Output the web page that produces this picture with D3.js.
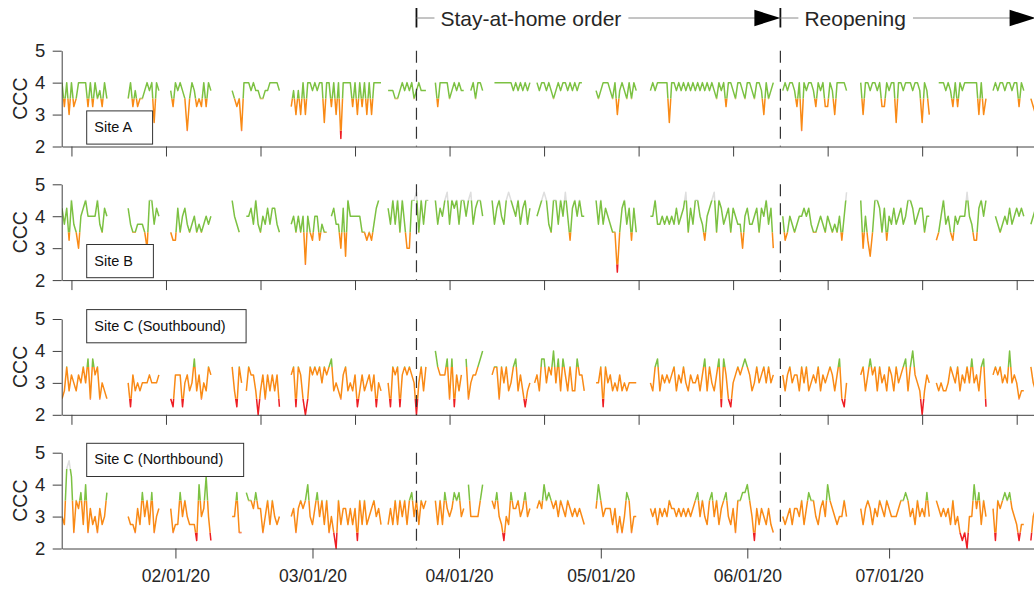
<!DOCTYPE html>
<html><head><meta charset="utf-8">
<script src="https://cdn.jsdelivr.net/npm/d3@7"></script>
<style>body{margin:0;background:#fff}svg{display:block;font-family:"Liberation Sans",Arial,Helvetica,sans-serif}</style>
</head><body><svg id="chart" width="1034" height="589"></svg>
<script>
// ---- data: CCC samples every 12 hours from 2020-01-08; each segment = [start sample index, values]
const sampleStart = Date.UTC(2020, 0, 8);
const stepHours = 12;

const siteA = [
  [0, [4,3.25,4,3,4,3.25,3.5,4,4,4,4,3.25,4,3.25,4,3.5,3.75,3.25,4,3.5]],
  [28, [3.5,4,3.25,3.75,3.25,3.5,3.5,3.75,4,3.75,4,2.75,4,3.75]],
  [46, [3.75,3.25,4,3.75,4,3.75,3.5,2.5,3.5,4,3.75,3.25,3.5,3.25,4,3.25,4,3.75]],
  [72, [3.75,3.5,3.25,3.5,2.5,4,4,4,3.75,4,3.75,3.75,3.5,3.5,3.75,3.75,4,4,4,4,3.75]],
  [97, [3.25,3.75,3,3.75,3,4,3,4,4,3.75,4,3.75,4,4,2.75,4,4,3.25,4,3,4,2.25,4,4,4,4,3.25,4,3,4,3.25,4,3,4,3,4,4,4,4]],
  [138, [3.75,3.75,3.75,3.5,3.5,3.75,4,3.75,4,3.75,4,3.5,3.75,4,3.75,3.75,3.75]],
  [158, [4,3.25,4,4,4,4,3.5,3.75,4,3.75,4,3.75,3.75]],
  [173, [3.75,4,3.5,4,4,3.75]],
  [183, [4,4,4,4,4,4,4,4,3.75,4,3.75,4,3.75,4,3.75,4]],
  [201, [4,3.75,4,4,3.75,4,3.75,3.5,3.75,4,3.75,4,4,3.75,4,3.75,4,3.75,4,4]],
  [226, [3.75,3.5,3.75,4,4,4,3.75,3.5,4,3,3.75,4,3.75,3.5,4,3.5,4,3.75]],
  [249, [3.75,4,3.75,4,4,4,4,4,2.75,4,4,3.75,4,3.75,4,3.75,4,3.75,4,3.75,4,3.75,4,3.75,4,3.75,4,3.75,3.5,4,3.75,4,3.25,4,4,3.75,3.5,4,4,3.75,3.5,4,4,3.75,3.5,4,4,3.75,3,4,3.5,3.75,4]],
  [305, [3.75,4,3.75,4,4,3.75,3.25,4,2.5,4,3.75,4,4,3.75,3.25,4,3.75,4,3.25,3.25,4,3.75,3,4,4,4,4,3.75]],
  [338, [4,3,4,4,3.75,4,4,3.75,4,3.25,3.25,4,3.75,4,4,2.75,4,4,3.75,4,4,4,3.75,4,4,3.75,2.75,4,3.75,3]],
  [371, [4,4,4,3.75,4,3.75,3.25,4,3.25,4,3.75,4,4,4,4,4,4,3,4,3,3.5]],
  [394, [3.75,4,3.75,4,4,3.75,4,4,3.75,4,4,3.25,4,3.75]],
  [410, [3.5,3.25,3]]
];

const siteB = [
  [0, [4.25,3.75,4.25,3.25,4.5,3.75,3.5,3,4,4.25,4.5,4,4,4,4,4.5,3.75,3.5,4.25,4]],
  [28, [4.25,3.75,3.5,3.5,3.75,3.75,3.75,3.5,3,4.5,4.5,3.75,4.25,4]],
  [46, [3.5,3.25,3.25,4.25,3.5,4,4.25,3.75,3.5,3.75,4,3.5,3.75,3.5,3.75,4,3.75,4]],
  [72, [4.5,4,3.75,3.5]],
  [78, [4,4,4.25,3.75,4.5,3.75,3.5,4,3.75,4.25,3.75,4.25,4.25,3.75,3.5]],
  [97, [3.75,4,3.5,4,3.5,4,2.5,4,3.5,3.25,4,4,3.25,3.75,3.5,3.5]],
  [114, [4,4.25,3.75,3.75,3,4.25,2.75,4.5,4,4,4,4,4,3.5,3.5,3.25,3.5,3.25,3.75,4.25,4.5]],
  [138, [4.25,3.75,4.5,3.75,4.5,3.5,4.5,3.75,3,3,4.5,4.5,4.75,3.5,4.5,3.75,4.5,4.5]],
  [158, [4.5,3.75,4.25,4,4.5,4.75,3.75,4.5,4.25,4.5,3.75,4.5,4.5,4,4.5,4.75,3.75,4.25,4.5,4.5,4]],
  [182, [4.5,3.75,4.25,4.5,4,3.75,4.5,4.75,4.5,4.25,4,4.5,3.75,4.25,4.5,3.75,4.25]],
  [201, [4,4.25,4.5,4.75,4.5,3.75,3.5,4.5,4.5,3.75,4.5,4,4.75,4,3.25,4.25,4.5,4,4.5,4,4]],
  [226, [4.5,3.75,4.5,3.75,4.25,4,3.75,3.5,3.5,2.25,3.5,4.25,4.5,3.75,4.25,3.25,4.25,3.5]],
  [249, [4,4,4.5,3.75,3.75,4,3.75,4,3.75,4,3.75,4.25,3.75,4,4.25,4.75,3.5,4.25,3.75,4.5,4.5,4,3.75,3.25,4,4.25,4.5,4.75,3.5,4.5,4.25,3.75,4,4.25,3.5,4.25,4,3.75,3.75,3,4,4.25,3.75,3.75,4,4.25,3.5,4.25,4,4.5,3.75,4.25,3]],
  [305, [4,3.25,3.5,4,3.75,3.5,3.75,4,4,4.25,4,4.25,3.75,3.5,3.5,3.75,4,3.75,3.5,4,3.75,3.5,3.75,3.5,4,3.25,4,4.75]],
  [338, [4.5,3,4,3.25,2.75,3.5,4.5,4.5,4.25,3.5,4.25,3.25,4,3.75,4.25,3.75,4,4.25,3.75,4,4.5,4.5,4.25,3.75,4,4.25,4.25,3.5,4,4]],
  [370, [3.25,3.5,4,4.5,3.75,4,3.5,3.25,4,3.75,4,4,4,4.75,4,3.75,3.25,3.25,4.25,4.5,4,4.5]],
  [395, [4,3.75,3.5,3.75,4,3.75,4.25,3.75,4,4.25,4,4.25,4]],
  [410, [3.75,4,4.25]]
];

const siteCSouth = [
  [0, [2.5,2.75,3.5,2.75,3.25,3,2.75,3.25,3,3.5,3,3.75,2.5,3.75,3.25,3.5,2.5,3,2.75,2.5]],
  [28, [3,2.25,3.25,2.75,3,2.75,3,3,3,3.25,3,3,3,3.25]],
  [46, [2.5,2.25,3.25,3.25,3.25,2.25,3,3.25,2.75,3,3.75,2.75,3.25,2.5,3,2.75,3.5,3.25]],
  [72, [3.5,2.75,2.25,3.5,3]],
  [78, [2.75,3.5,3.25,3.25,2.75,2,2.75,3.25,2.5,3.25,2.75,3.25,2.75,3.25,2.25]],
  [97, [3.25,3.5,2.25,3.5,3.25,2.5,2,2.5,3.5,3.25,3.5,3.25,3.5,3,3.5,3.25,3.5,3.75,2.75,3,2.75,2.5,3.25,3.5,2.75,3,2.75,3.25,2.25,2.75,3.25,2.75,3,3.25,2.75,3.25,2.25,3,2.75]],
  [138, [3,2.25,3.5,3.25,3.5,2.25,3.25,3.5,3.25,3.5,3.25,3,2,3,3.5,2.75,3.5]],
  [158, [4,3.5,3.25,3.25,3.25,3.75,2.5,3.75,2.25,3.25,2.75,3.25]],
  [171, [3.75,2.5,3,3.25,3.25,3.5,3.75,4]],
  [182, [3.25,3.5,3.5,2.5,3.5,3,3.5,2.75,3,3.5,3.75,2.75,3.25,2.75,2.25,2.75,3]],
  [200, [3,3.25,2.75,3.75,3.75,3,3.5,3.25,4,3,3.75,2.75,3.75,3.25,2.75,3.5,2.75,2.75,3.75,3.25,3.25,2.75]],
  [226, [3,3,3.5,2.25,3.5,3,3.25,2.75,3,2.75,3.25,2.75,3,2.75,3,3,3,3]],
  [249, [3,2.75,3.5,3.75,2.75,3.25,3,3.25,3,3.25,3.5,2.75,3.25,3,3.5,3,2.75,3.25,3,3,3.25,2.75,3.25,3.75,2.75,3.5,3,2.75,3.25,3.75,2.25,3.75,3.25,2.5,2.25,3,3.25,3.5,3.25,3.5,3.75,3.5,3.25,2.75,3,3.5,3,3.25,3.5,3,3.5,3,3.25]],
  [305, [3.25,2.75,3.25,3.5,3,3.25,3.25,2.75,3.5,3,3.5,2.75,3,3.25,3,3.5,2.75,3.25,3,3.25,3.5,3.25,2.75,3.25,3.75,2.5,2.25,3]],
  [338, [3.25,3.5,2.75,3.25,3.75,3.25,3.5,2.75,3.5,3,3.25,2.75,3.5,3.25,2.75,3.5,3,3.25,3.5,3.75,2.75,3.5,4,3.25,3,2.75,2,2.75,3.25,3]],
  [370, [3,2.75,3,2.75,2.75,3,3.5,3.25,3,3.5,2.75,3.25,3,3.5,3,3.75,3,3.25,2.75,3.5,3.75,2.25]],
  [394, [3.25,3.5,3.25,3.5,3,3.25,3,4,3,3.25,3,2.5,2.75,2.75]],
  [410, [3.5,3,2.75]]
];

const siteCNorth = [
  [0, [3,2.75,4.5,4.75,4.25,2.5,3.5,3.25,3.75,2.75,4,2.5,3.25,2.75,3,2.5,3.25,2.75,3,3.75]],
  [28, [3,2.75,2.75,2.5,3.25,2.75,3.75,3,3.5,2.75,3.75,2.5,3,3.25]],
  [46, [3.25,2.5,2.75,2.75,3.75,3,3.5,3,2.75,2.75,2.75,2.25,4,3,3.25,4.25,3,2.25]],
  [72, [3,3,3.75,2.5,2.5]],
  [78, [3.75,3.5,3.5,3.25,3.75,3.25,3.25,2.5,3,3.5,2.75,3.5,3,2.75,3]],
  [97, [3,3.25,2.5,3.25,3.5,3.25,3.5,4,3,2.75,3.25,3.75,3,3.5,2.75,3.5,2.5,3,2.5,2,3.5,2.75,3.25,3.25,2.75,3.25,2.75,3.25,2.25,3.5,2.75,3.5,2.75,3,3.25,3.5,3,3.25,2.75]],
  [138, [2.75,3.25,2.75,3.5,2.75,3.5,3,3.5,2.75,3.5,3.75,3,3.5,2.75,3.5,3.25,3.5]],
  [158, [3.5,2.75,3.5,2.75,3.75,3.25,3,3.25,3.75,3.5,3.75,3,3.25]],
  [172, [4,3,3,3,3,3.5,4]],
  [182, [3.5,3.25,3.75,3,2.75,2.25,3,2.75,3.75,3.25,3.25,3.5,3,3.25,3.75,3,3.25]],
  [201, [3.25,3.5,3.25,4,3.5,3.75,3.5,3.25,3.5,3,3.5,3.25,3,3.5,3.25,3,3.25,3,3.25,3,2.75]],
  [226, [3.25,4,3.5,3,3.25,3.25,3.25,2.75,3.25,2.5,3,2.5,3,3.75,3.5,2.5,3,3]],
  [249, [3.25,3,3.25,2.75,3.25,3,3.25,3,3.5,3.25,3.25,3,3.25,3,3.25,3,3.25,3,3.25,3.5,3.75,3,3.5,3,2.75,3.5,3.75,3,3.5,2.75,3.25,3.5,3.75,3,2.75,3.25,2.5,3.5,3.5,3.75,3.75,4,3.5,3,2.25,3.25,2.75,3.25,3,2.75,3.25,2.75,2.5]],
  [305, [3,2.75,3,3.25,2.75,3.25,3.25,3,3.5,2.75,3.25,3.75,3.5,3.5,3,2.75,3.25,3.5,3,4,3.5,3.25,3,2.75,3,3,3.5,3]],
  [338, [3.25,2.75,3.25,3.5,3.25,2.75,3.25,3,3.5,3.25,3,3.5,3.25,3,3,3,3.25,3.5,3.5,3.75,3.5,3,3.25,2.75,3.5,3,3.25,3,3.75,3]],
  [370, [3.5,3.25,3,3.25,3,3.25,2.75,3.5,2.75,3,2.5,2.25,2.5,2,3,3,4,3.25,3.75,2.75,3.5,3]],
  [394, [3.25,2.25,3.5,3.25,3.5,3.75,3.5,3.75,3.25,3,2.75,2.25,2.75,2.75]],
  [410, [2.25,3,3.25]]
];

const siteNames = ["Site A", "Site B", "Site C (Southbound)", "Site C (Northbound)"];
const yTicks = [2, 3, 4, 5];
const monthTicks = ["2020-02-01","2020-03-01","2020-04-01","2020-05-01","2020-06-01","2020-07-01"];
const minorTicks = ["2020-01-10","2020-01-30","2020-02-19","2020-03-10","2020-03-30","2020-04-19","2020-05-09","2020-05-29","2020-06-18","2020-07-08","2020-07-28"];
const eventDates = ["2020-03-23", "2020-06-08", "2020-08-01"];
const eventLabels = ["Stay-at-home order", "Reopening"];
const bandEdges = [0, 2.5, 3.5, 4.5, 6];      // red | orange | green | grey
const bandColors = ["#ee1d23", "#f98a16", "#7cc142", "#dedede"];

// ---- layout
const svg = d3.select("#chart");
const parse = s => { const [y,m,d] = s.split("-").map(Number); return new Date(Date.UTC(y, m-1, d)); };
const x = d3.scaleUtc().domain([new Date(Date.UTC(2020,0,8)), new Date(Date.UTC(2020,7,1))]).range([62, 1035.6]);
const panelTops = [50.7, 184.3, 319, 452.7];
const panelH = 95.8;
const allSites = [siteA, siteB, siteCSouth, siteCNorth];
const ink = "#262626", axisInk = "#404040";

function toPoints(segs) {
  const pts = [];
  segs.forEach(([start, vals], k) => {
    if (k > 0) pts.push(null);
    vals.forEach((v, i) => pts.push({ t: new Date(sampleStart + (start + i) * stepHours * 3600e3), v }));
  });
  return pts;
}

allSites.forEach((segs, p) => {
  const top = panelTops[p], bottom = top + panelH;
  const y = d3.scaleLinear().domain([2, 5]).range([bottom, top]);
  const g = svg.append("g");

  const defs = svg.append("defs");
  bandColors.forEach((c, b) => {
    const hi = Math.min(bandEdges[b+1], 5.6), lo = Math.max(bandEdges[b], 1.8);
    defs.append("clipPath").attr("id", `clip-${p}-${b}`)
      .append("rect").attr("x", x.range()[0]).attr("width", x.range()[1] - x.range()[0])
      .attr("y", y(hi)).attr("height", y(lo) - y(hi));
  });

  const pts = toPoints(segs);
  const line = d3.line().defined(d => d !== null).x(d => x(d.t)).y(d => y(d.v));
  bandColors.forEach((c, b) => {
    g.append("path").attr("d", line(pts)).attr("fill", "none").attr("stroke", c)
      .attr("stroke-width", 1.5).attr("stroke-linejoin", "round")
      .attr("clip-path", `url(#clip-${p}-${b})`);
  });

  eventDates.slice(0, 2).forEach(s => {
    g.append("line").attr("x1", x(parse(s))).attr("x2", x(parse(s)))
      .attr("y1", top).attr("y2", bottom).attr("stroke", "#333").attr("stroke-width", 1.2)
      .attr("stroke-dasharray", "12,7");
  });

  const yAxis = g.append("g").attr("transform", `translate(${x.range()[0] - 0.3},0)`)
    .call(d3.axisLeft(y).tickValues(yTicks).tickFormat(d3.format("d")).tickSize(9).tickSizeOuter(0).tickPadding(7.5));
  yAxis.selectAll("path,line").attr("stroke", axisInk);
  yAxis.selectAll("text").attr("fill", ink).style("font-size", "18.5px");

  const isLast = p === allSites.length - 1;
  const xAxis = d3.axisBottom(x).tickSize(10).tickSizeOuter(0);
  if (isLast) xAxis.tickValues(monthTicks.map(parse)).tickFormat(d3.utcFormat("%m/%d/%y")).tickPadding(11.5);
  else xAxis.tickValues(minorTicks.map(parse)).tickFormat("");
  const xa = g.append("g").attr("transform", `translate(0,${bottom})`).call(xAxis);
  xa.selectAll("path,line").attr("stroke", axisInk);
  xa.selectAll("text").attr("fill", ink).style("font-size", "17.5px");

  g.append("text").attr("transform", `translate(20,${(top + bottom) / 2}) rotate(-90)`)
    .attr("text-anchor", "middle").attr("dy", "0.35em").attr("fill", ink)
    .style("font-size", "19.5px").text("CCC");

  const boxY = p < 2 ? top + 60.2 : top - 9.4;
  const lg = g.append("g").attr("transform", `translate(86.7,${boxY})`);
  const txt = lg.append("text").attr("x", 7.6).attr("y", 21).attr("fill", "#111")
    .style("font-size", "14.5px").text(siteNames[p]);
  const tw = txt.node().getComputedTextLength();
  lg.insert("rect", "text").attr("width", tw + 28).attr("height", 33.2)
    .attr("fill", "#fff").attr("stroke", "#333").attr("stroke-width", 1);
});

// ---- top annotation
const ay = 18;
const ann = svg.append("g");
const xs = eventDates.map(s => x(parse(s)));
eventLabels.forEach((lab, i) => {
  const x0 = xs[i], x1 = xs[i + 1];
  ann.append("line").attr("x1", x0).attr("x2", x0).attr("y1", 8).attr("y2", 27.5)
    .attr("stroke", "#111").attr("stroke-width", 1.8);
  const t = ann.append("text").attr("x", x0 + 24).attr("y", 25.5).attr("fill", ink)
    .style("font-size", "21px").text(lab);
  const tw = t.node().getComputedTextLength();
  ann.append("line").attr("x1", x0).attr("x2", x0 + 18).attr("y1", ay).attr("y2", ay)
    .attr("stroke", "#8a8a8a").attr("stroke-width", 1);
  ann.append("line").attr("x1", x0 + 24 + tw + 7).attr("x2", x1 - 25).attr("y1", ay).attr("y2", ay)
    .attr("stroke", "#8a8a8a").attr("stroke-width", 1);
  ann.append("path").attr("d", `M${x1},${ay} L${x1 - 26},${ay - 8.2} L${x1 - 26},${ay + 8.2} Z`)
    .attr("fill", "#000");
});
</script>
</body></html>
